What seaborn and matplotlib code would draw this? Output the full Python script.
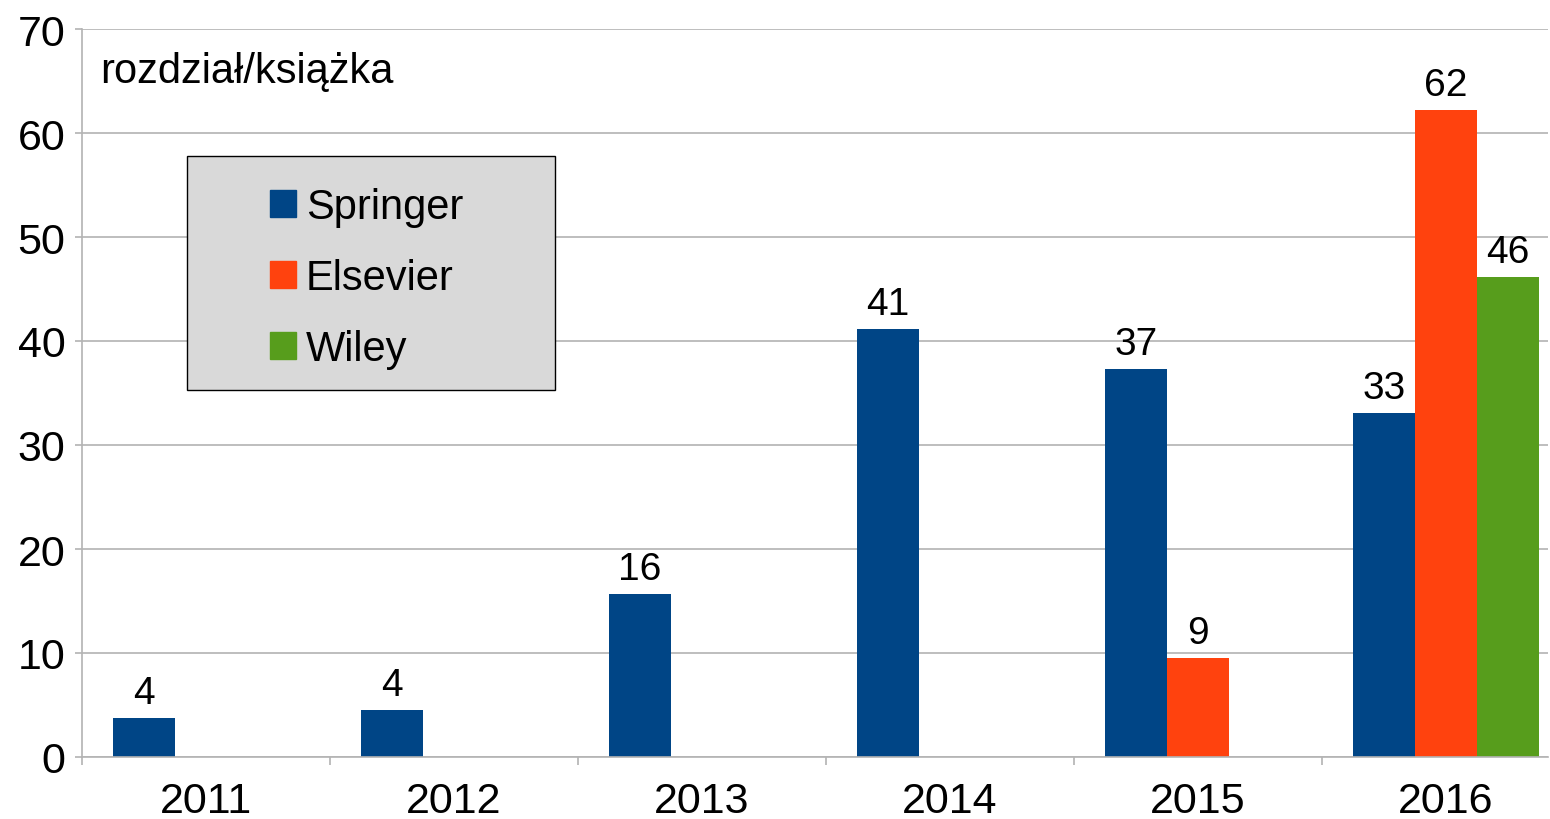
import matplotlib
matplotlib.use("Agg")
import matplotlib.pyplot as plt
from matplotlib.patches import Rectangle
import seaborn as sns
import pandas as pd

years = ["2011", "2012", "2013", "2014", "2015", "2016"]
publishers = ["Springer", "Elsevier", "Wiley"]
springer = [3.75, 4.5, 15.65, 41.2, 37.35, 33.05]
springer_labels = ["4", "4", "16", "41", "37", "33"]
elsevier_years = ["2015", "2016"]
elsevier = [9.5, 62.2]
elsevier_labels = ["9", "62"]
wiley_years = ["2016"]
wiley = [46.2]
wiley_labels = ["46"]
colors = ["#004586", "#ff420e", "#579d1c"]
title_text = "rozdział/książka"

rows = []
for y, v in zip(years, springer):
    rows.append((y, "Springer", v))
for y, v in zip(elsevier_years, elsevier):
    rows.append((y, "Elsevier", v))
for y, v in zip(wiley_years, wiley):
    rows.append((y, "Wiley", v))
df = pd.DataFrame(rows, columns=["year", "publisher", "value"])

sns.set_theme(style="white")
plt.rcParams["font.family"] = ["Liberation Sans", "DejaVu Sans"]
plt.rcParams["text.color"] = "black"

fig = plt.figure(figsize=(15.5, 8.2), dpi=100)
ax = fig.add_axes([82 / 1550, 62 / 820, (1548 - 82) / 1550, (758 - 30) / 820])

sns.barplot(data=df, x="year", y="value", hue="publisher", order=years,
            hue_order=publishers, palette=colors, width=0.75, dodge=True,
            saturation=1, linewidth=0, ax=ax, legend=True)

ax.set_ylim(0, 70)
ax.set_xlim(-0.5, -0.5 + (1548 - 82) / 248)
ax.set_yticks(range(0, 71, 10))
ax.yaxis.grid(True, color="#b3b3b3", linewidth=1.2)
ax.set_axisbelow(True)
ax.set_xlabel("")
ax.set_ylabel("")
for s in ["top", "right"]:
    ax.spines[s].set_visible(False)
for s in ["left", "bottom"]:
    ax.spines[s].set_color("#b3b3b3")
    ax.spines[s].set_linewidth(1.2)

ax.tick_params(axis="y", labelsize=31, length=5, width=1.2, color="#b3b3b3",
               pad=7, left=True, labelcolor="black")
ax.tick_params(axis="x", which="major", labelsize=31, length=0, pad=17,
               labelcolor="black")
ax.set_xticks([i + 0.5 for i in range(-1, len(years) - 1)], minor=True)
ax.tick_params(axis="x", which="minor", length=6, width=1.2, color="#b3b3b3",
               bottom=True)

label_sets = [springer_labels, elsevier_labels, wiley_labels]
for cont, labs in zip(ax.containers, label_sets):
    ax.bar_label(cont, labels=labs, fontsize=28, padding=5, color="black")

# legend
leg = ax.get_legend()
if leg is not None:
    leg.remove()
handles = [Rectangle((0, 0), 1, 1, color=c) for c in colors]
fig.patches.append(Rectangle((187 / 1550, 1 - 391 / 820), (555 - 187) / 1550,
                             (391 - 157) / 820, transform=fig.transFigure,
                             facecolor="#d9d9d9", edgecolor="black",
                             linewidth=1.0, zorder=5))
lg = fig.legend(handles, publishers, loc="upper left",
                bbox_to_anchor=(270 / 1550, 1 - 188 / 820),
                frameon=False, fontsize=30, handlelength=0.62, handleheight=0.62,
                handletextpad=0.24, labelspacing=0.75, borderpad=0,
                borderaxespad=0, labelcolor="black")
lg.set_zorder(6)

fig.text(100 / 1550, 1 - 72 / 820, title_text, fontsize=30, ha="left",
         va="center", color="black")

fig.savefig("out.png", dpi=100)
